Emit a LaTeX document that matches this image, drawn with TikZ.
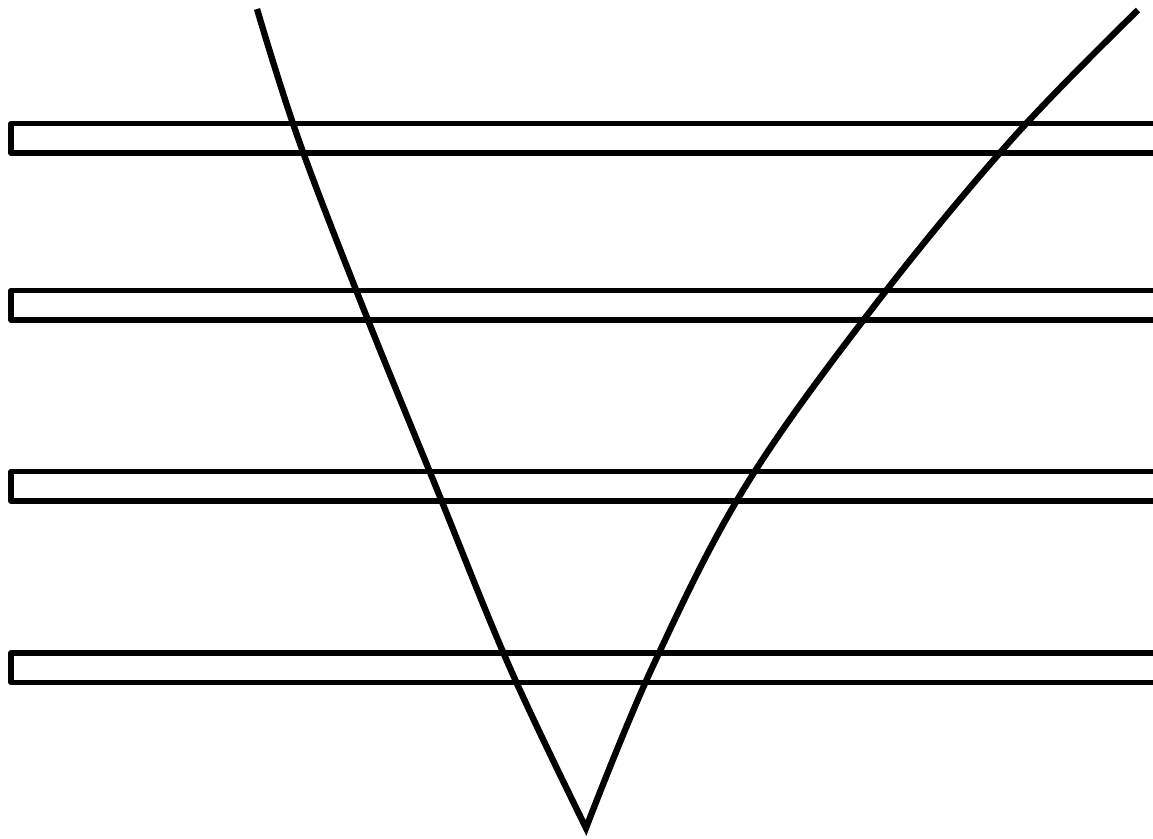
\documentclass[tikz,border=0pt]{standalone}
\begin{document}
\begin{tikzpicture}[x=0.01cm,y=-0.01cm,
  bar/.style={draw=black,line width=1.45pt,line join=round},
  vee/.style={draw=black,line width=1.8pt,line join=miter}]
\useasboundingbox (0,0) rectangle (1153,838);
\begin{scope}
\clip (0,0) rectangle (1153,838);
\foreach \y [count=\i] in {123.5,290.5,471.5,653} {
  \draw[bar] (1170,\y) -- (11,\y) -- (11,\y+29.5) -- (1170,\y+29.5);
}
\draw[vee] plot[smooth,tension=0.6] coordinates {(257,9) (298,138) (362,305) (436,487) (510,668) (586,828)}
  -- plot[smooth,tension=0.6] coordinates {(586,828) (652,668) (745,487) (875,305) (1013,138) (1138,10)};
\end{scope}
\end{tikzpicture}
\end{document}
